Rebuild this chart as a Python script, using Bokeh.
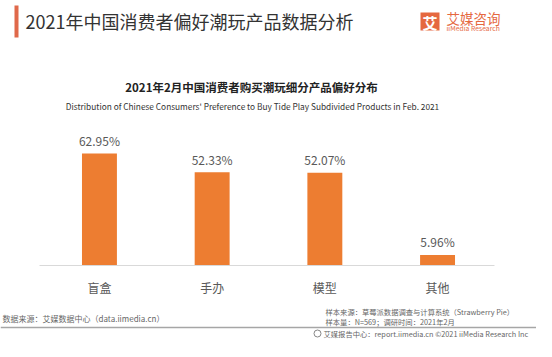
from bokeh.plotting import figure
from bokeh.models import ColumnDataSource, Range1d, FactorRange
from bokeh.core.properties import value
from bokeh.embed import file_html
from bokeh.resources import INLINE

# ---- data ----
categories = ["盲盒", "手办", "模型", "其他"]
shares = [62.95, 52.33, 52.07, 5.96]
share_labels = [f"{v:.2f}%" for v in shares]

title_text = "2021年中国消费者偏好潮玩产品数据分析"
chart_title = "2021年2月中国消费者购买潮玩细分产品偏好分布"
chart_subtitle = "Distribution of Chinese Consumers' Preference to Buy Tide Play Subdivided Products in Feb. 2021"
source_left = "数据来源：艾媒数据中心（data.iimedia.cn）"
sample_src = "样本来源：草莓派数据调查与计算系统（Strawberry Pie）"
sample_n = "样本量：N=569；调研时间：2021年2月"
bottom_text = "艾媒报告中心：report.iimedia.cn  ©2021  iiMedia Research Inc"

W, H = 536, 341
PAD = 0.378
Y0, Y1 = -42.7, 148.9
CJK = value("Noto Sans CJK SC")
ORANGE = "#ED7D31"
LOGO = "#E5683F"

p = figure(width=W, height=H, output_backend="svg", toolbar_location=None,
           x_range=FactorRange(*categories, range_padding=PAD, range_padding_units="absolute"),
           y_range=Range1d(Y0, Y1),
           x_axis_location=None, y_axis_location=None,
           min_border=0, min_border_left=0, min_border_right=0,
           min_border_top=0, min_border_bottom=0)
p.outline_line_color = None
p.xgrid.visible = False
p.ygrid.visible = False
p.background_fill_color = "white"
p.border_fill_color = "white"

# helpers: canvas pixel position (from top-left) -> plot coordinates, for decorations
KX = W / (len(categories) + 2 * PAD)
KY = H / (Y1 - Y0)
def fx(x):
    return x / KX - PAD
def fy(y):
    return Y1 - y / KY

src = ColumnDataSource(dict(cat=categories, val=shares, lab=share_labels))

# bars
p.vbar(x="cat", top="val", bottom=0, width=0.31, source=src,
       fill_color=ORANGE, line_color=None)
# value labels
p.text(x="cat", y="val", text="lab", source=src, text_align="center",
       text_baseline="middle", y_offset=-13, text_font=CJK,
       text_font_size="12px", text_color="#595959")
# category labels
p.text(x="cat", y=0, text="cat", source=src, text_align="center",
       text_baseline="middle", y_offset=22, text_font=CJK,
       text_font_size="12px", text_color="#595959")

# baseline
p.segment(x0=[fx(39)], y0=[0], x1=[fx(494)], y1=[0], line_color="#D9D9D9",
          line_width=1)

def txt(x, y, s, size, color, align="left", bold=False):
    p.text(x=[fx(x)], y=[fy(y)], text=[s], text_font=CJK, text_font_size=f"{size}px",
           text_color=color, text_align=align, text_baseline="middle",
           text_font_style="bold" if bold else "normal")

# header
p.quad(left=[fx(14)], right=[fx(18)], top=[fy(5)], bottom=[fy(37)],
       fill_color="#E0694A", line_color=None)
txt(25, 20, title_text, 18, "#333333")

# logo
p.quad(left=[fx(420)], right=[fx(439)], top=[fy(12)], bottom=[fy(30)],
       fill_color=LOGO, line_color=None)
txt(429.5, 21.5, "艾", 15, "white", align="center", bold=True)
txt(446, 17, "艾媒咨询", 13.5, LOGO)
txt(446, 27.5, "iiMedia Research", 6.8, LOGO)

# chart titles
txt(251, 86, chart_title, 11.5, "#222222", align="center", bold=True)
txt(252, 105, chart_subtitle, 8.3, "#333333", align="center")

# footer
txt(2, 318, source_left, 8, "#666666")
txt(325, 311, sample_src, 7.3, "#666666")
txt(325, 321, sample_n, 7.3, "#666666")
p.segment(x0=[fx(0)], y0=[fy(327)], x1=[fx(W)], y1=[fy(327)], line_color="#A6A6A6",
          line_width=1.5)
p.scatter(x=[fx(317)], y=[fy(333)], size=7, marker="circle", fill_color=None,
          line_color="#888888", line_width=1)
txt(323, 333, bottom_text, 7.3, "#666666")

open("out.html", "w").write(file_html(p, INLINE))
